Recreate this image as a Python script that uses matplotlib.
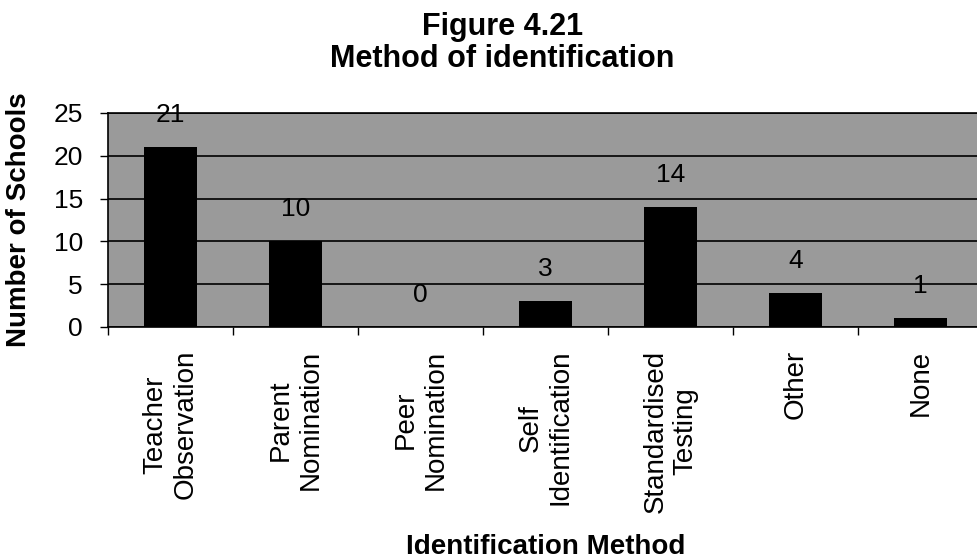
import numpy as np
import matplotlib
matplotlib.use('Agg')
import matplotlib.pyplot as plt

# data
methods = ['Teacher\nObservation', 'Parent\nNomination', 'Peer\nNomination',
           'Self\nIdentification', 'Standardised\nTesting', 'Other', 'None']
schools = [21, 10, 0, 3, 14, 4, 1]
y_ticks = [0, 5, 10, 15, 20, 25]

plt.rcParams['font.family'] = ['Liberation Sans', 'DejaVu Sans']

fig = plt.figure(figsize=(9.77, 5.59), dpi=100)
ax = fig.add_axes([108 / 977, 232 / 559, 875 / 977, 214 / 559])

x = np.arange(len(methods))
ax.set_facecolor('#9a9a9a')
ax.bar(x, schools, width=0.42, color='black', zorder=3)

# value labels above the bars
for i, v in enumerate(schools):
    ax.annotate(str(v), (x[i], v), xytext=(0, 23), textcoords='offset points',
                ha='center', va='center', fontsize=19, color='black', zorder=4)

ax.set_xlim(-0.5, len(methods) - 0.5)
ax.set_ylim(0, 25)
ax.set_yticks(y_ticks)
ax.yaxis.grid(True, color='black', linewidth=1.2, zorder=1)
ax.set_axisbelow(True)

# category labels at centres, tick marks at the boundaries
ax.set_xticks(x)
ax.set_xticklabels(methods, rotation=90, fontsize=20)
plt.setp(ax.get_xticklabels(), multialignment='center')
ax.set_xticks(np.arange(len(methods)) - 0.5, minor=True)
ax.tick_params(axis='x', which='major', length=0, pad=16.5)
ax.tick_params(axis='x', which='minor', length=6, width=1, direction='out')
ax.tick_params(axis='y', length=6, width=1, pad=12, labelsize=19)

for s in ax.spines.values():
    s.set_color('black')
    s.set_linewidth(1.2)

ax.set_ylabel('Number of Schools', fontsize=20, fontweight='bold')
ax.yaxis.set_label_coords(-0.087, 0.5)
ax.set_xlabel('Identification Method', fontsize=20, fontweight='bold')
ax.xaxis.label.set_va('baseline')
ax.xaxis.set_label_coords(0.5, -1.062)

# two-line title
fig.text(503 / 977, 1 - 35 / 559, 'Figure 4.21', ha='center', va='baseline',
         fontsize=22, fontweight='bold')
fig.text(502 / 977, 1 - 67 / 559, 'Method of identification', ha='center',
         va='baseline', fontsize=22, fontweight='bold')

fig.savefig('out.png', dpi=100)
